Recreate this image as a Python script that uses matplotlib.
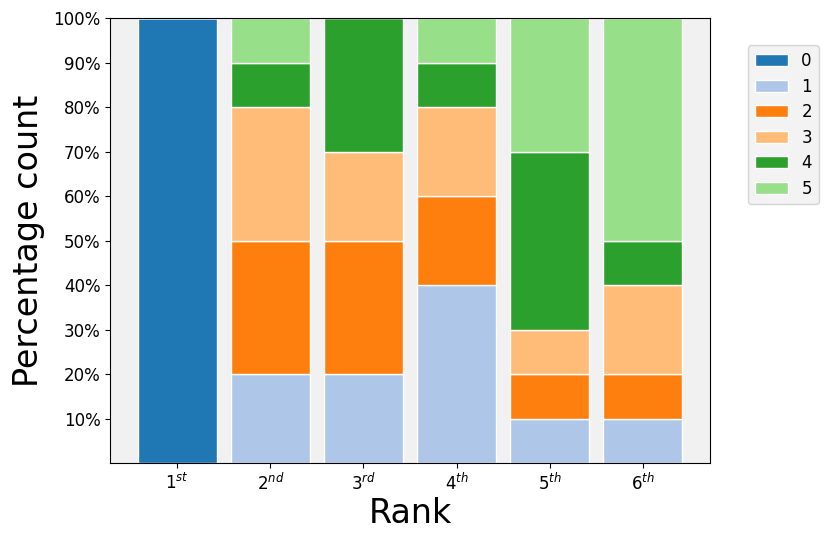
import matplotlib
matplotlib.use("Agg")
import matplotlib.pyplot as plt
import numpy as np

ranks = ["$1^{st}$", "$2^{nd}$", "$3^{rd}$", "$4^{th}$", "$5^{th}$", "$6^{th}$"]
series_labels = ["0", "1", "2", "3", "4", "5"]
s0 = [100, 0, 0, 0, 0, 0]
s1 = [0, 20, 20, 40, 10, 10]
s2 = [0, 30, 30, 20, 10, 10]
s3 = [0, 30, 20, 20, 10, 20]
s4 = [0, 10, 30, 10, 40, 10]
s5 = [0, 10, 0, 10, 30, 50]
series = [s0, s1, s2, s3, s4, s5]
colors = ["#1f77b4", "#aec7e8", "#ff7f0e", "#ffbb78", "#2ca02c", "#98df8a"]

fig = plt.figure(figsize=(8.3, 5.45), dpi=100)
ax = fig.add_axes([0.133, 0.15, 0.722, 0.817])
ax.set_facecolor("#f1f1f1")
x = np.arange(1, len(ranks) + 1)
bottom = np.zeros(len(ranks))
for lab, vals, c in zip(series_labels, series, colors):
    v = np.array(vals, dtype=float)
    ax.bar(x, v, 0.85, bottom=bottom, color=c, edgecolor="white", linewidth=1, label=lab)
    bottom += v
ax.set_ylim(0, 100)
ax.set_yticks(range(10, 101, 10))
ax.set_yticklabels([f"{t}%" for t in range(10, 101, 10)], fontsize=12)
ax.set_xticks(x)
ax.set_xticklabels(ranks, fontsize=12)
ax.set_xlabel("Rank", fontsize=24, labelpad=2)
ax.set_ylabel("Percentage count", fontsize=24, labelpad=6)
leg = ax.legend(loc="upper left", bbox_to_anchor=(1.05, 0.957), fontsize=12,
                facecolor="#f1f1f1", labelspacing=0.45)
fig.savefig("out.png", dpi=100)
